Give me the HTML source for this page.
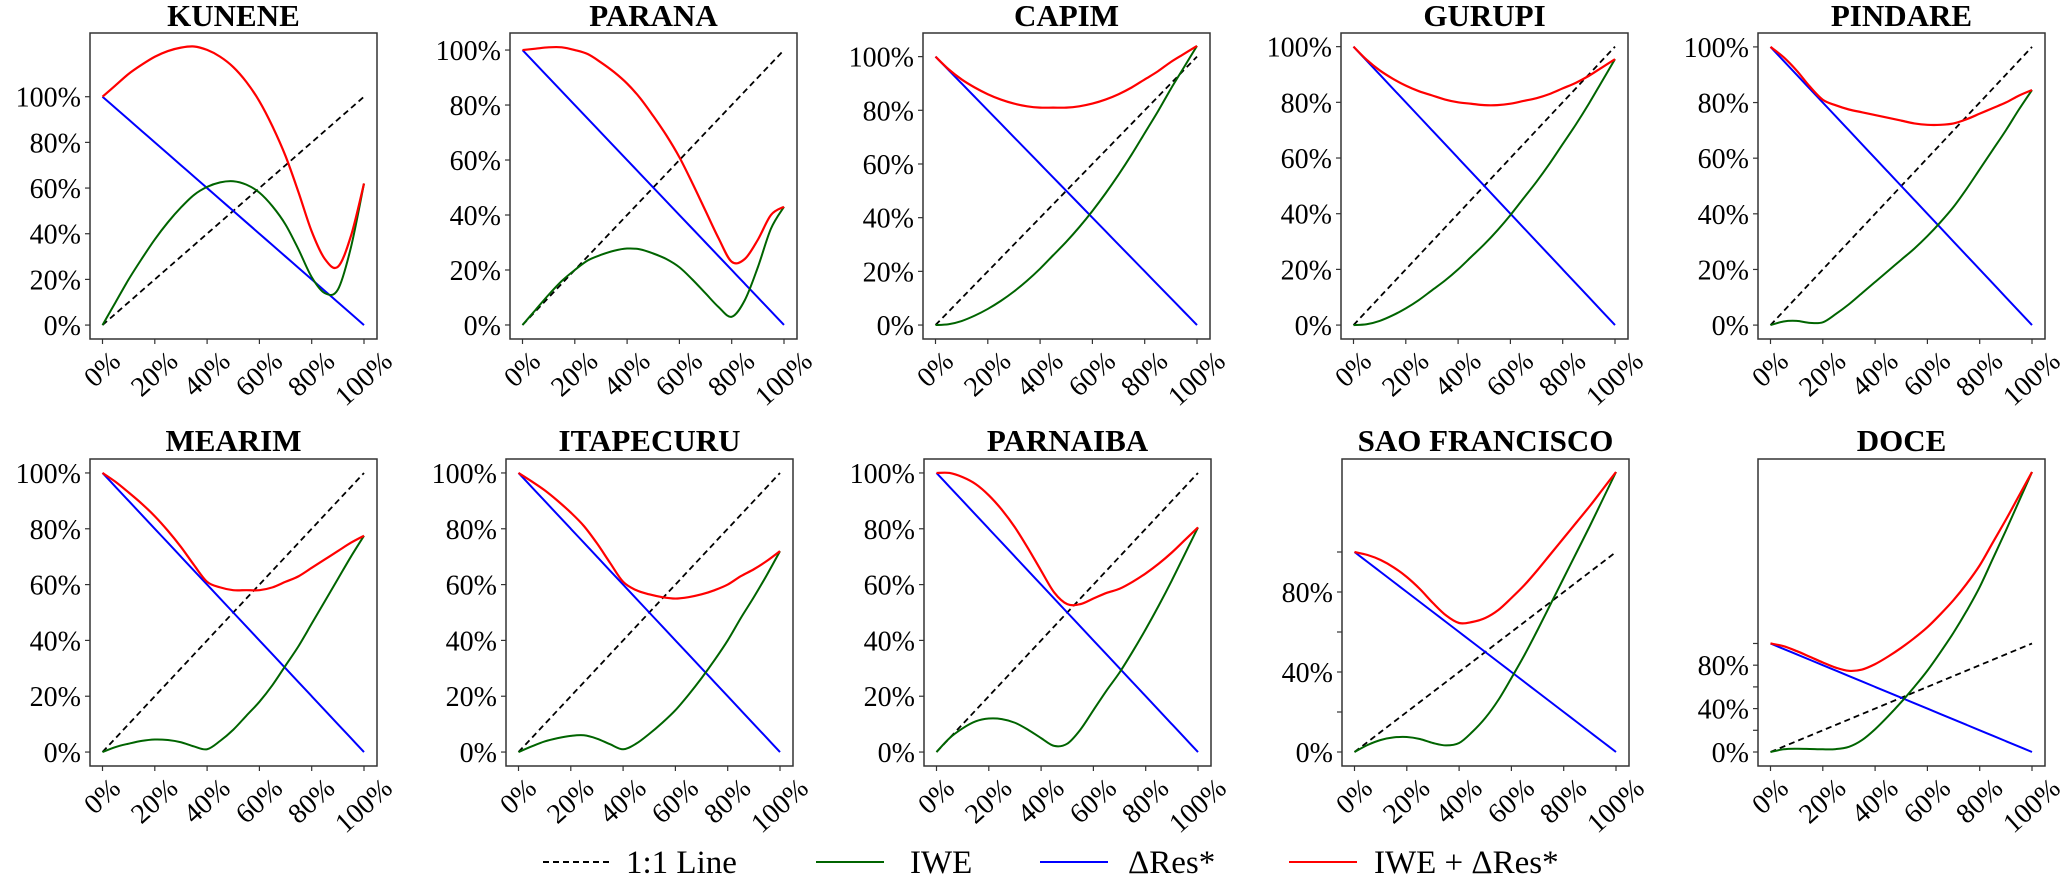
<!DOCTYPE html>
<html><head><meta charset="utf-8"><style>
html,body{margin:0;padding:0;background:#fff;}
svg{display:block;font-family:"Liberation Serif","Times New Roman",serif;}
</style></head><body>
<svg id="fig" width="2067" height="882" viewBox="0 0 2067 882" xmlns="http://www.w3.org/2000/svg"></svg>
<script>
// common x grid (% of range)
const xs = [0,5,10,15,20,25,30,35,40,45,50,55,60,65,70,75,80,85,90,95,100];
const dres = [100,95,90,85,80,75,70,65,60,55,50,45,40,35,30,25,20,15,10,5,0];
const names = ["KUNENE","PARANA","CAPIM","GURUPI","PINDARE","MEARIM","ITAPECURU","PARNAIBA","SAO FRANCISCO","DOCE"];
const iweKunene = [0,10,20,29,37.5,45,51.5,57,60.5,62.5,63,61.5,58,52,44,33,21,14,15.5,34,62];
const iweParana = [0,5.5,11,16,20,23.5,25.5,27,27.8,27.5,26,24,21,16.5,11.5,6.5,3,9,21,35,43];
const iweCapim = [0,0.3,1.5,3.5,6,9,12.5,16.5,21,26,31,36.5,42.5,49,56,63.5,71.5,79.5,88,96,104];
const iweGurupi = [0,0.3,1.5,3.5,6,9,12.5,16,20,24.5,29,34,39.5,45.5,51.5,58,65,72,79.5,87.5,95.5];
const iwePindare = [0,1.3,1.5,0.8,1,4,7.5,11.5,15.5,19.5,23.5,27.5,32,37,42.5,49,56,63,70,77.5,84.5];
const iweMearim = [0,1.8,3,4,4.5,4.3,3.5,2,1,4,8,13,18,24,31,38,46,54,62,70,77.5];
const iweItapecuru = [0,2,3.8,5,5.8,6,4.8,2.8,1,3,6.5,10.5,15,20.5,26.5,33,40,48,55.5,63.5,72];
const iweParnaiba = [0,5,8.5,11,12,11.8,10.5,8,5,2.2,3,8,15,22,28.5,36,44,52.5,61.5,71,80.5];
const iweSao = [0,3.5,6,7.3,7.5,6.5,4.5,3.3,4.5,10,17,26,37,48.5,61,74,87,100,113,126.5,140];
const iweDoce = [0,2.5,3,2.8,2.5,2.7,4.8,11,21,33,46,60,75,92,110,130,152,178,204,231,258];
const iweAll = [iweKunene,iweParana,iweCapim,iweGurupi,iwePindare,iweMearim,iweItapecuru,iweParnaiba,iweSao,iweDoce];
const yMin = [-6.1,-5.1,-5.2,-5,-5,-5,-5,-5,-7,-12.9];
const yMax = [127.9,106.2,108.8,104.9,105,105,105,105,146.5,270];
const yTickVals = [0,20,40,60,80,100];
const yLabelSao = ["0%","","40%","","80%",""];
const yLabelStd = ["0%","20%","40%","60%","80%","100%"];
const xTickVals = [0,20,40,60,80,100];
const xTickLabels = ["0%","20%","40%","60%","80%","100%"];

const NS="http://www.w3.org/2000/svg";
const svg=document.getElementById('fig');
function mk(tag,attrs,parent){const e=document.createElementNS(NS,tag);for(const k in attrs)e.setAttribute(k,attrs[k]);(parent||svg).appendChild(e);return e;}

const lefts=[90,510,923,1341,1758,90,506,924,1342,1758];
const W=287;
function smoothPath(pts){
  let d=`M${pts[0][0].toFixed(2)},${pts[0][1].toFixed(2)}`;
  for(let i=0;i<pts.length-1;i++){
    const p0=pts[Math.max(0,i-1)],p1=pts[i],p2=pts[i+1],p3=pts[Math.min(pts.length-1,i+2)];
    const c1=[p1[0]+(p2[0]-p0[0])/6,p1[1]+(p2[1]-p0[1])/6];
    const c2=[p2[0]-(p3[0]-p1[0])/6,p2[1]-(p3[1]-p1[1])/6];
    d+=` C${c1[0].toFixed(2)},${c1[1].toFixed(2)} ${c2[0].toFixed(2)},${c2[1].toFixed(2)} ${p2[0].toFixed(2)},${p2[1].toFixed(2)}`;
  }
  return d;
}
for(let p=0;p<10;p++){
  const row=p<5?0:1;
  const L=lefts[p], T=row?459:33, H=row?307:306, B=T+H;
  const x0=L+12.5, x1=L+274;
  const g=mk('g',{});
  
  
  const sx=v=>x0+(x1-x0)*v/100;
  const sy=v=>B-(v-yMin[p])/(yMax[p]-yMin[p])*H;
  const title=mk('text',{x:L+W/2,y:row?451:26,'text-anchor':'middle','font-size':31,'font-weight':'bold',fill:'#000'},g);
  title.textContent=names[p];
  
  
  yTickVals.forEach((v,i)=>{
    const y=sy(v);
    mk('line',{x1:L-5,x2:L,y1:y,y2:y,stroke:'#333','stroke-width':1.2},g);
    const lab=(p>=8)?yLabelSao[i]:yLabelStd[i];
    if(lab){
      const t=mk('text',{x:L-9,y:y+10,'text-anchor':'end','font-size':28,fill:'#000'},g);
      t.textContent=lab;
      
      
    }
  });
  xTickVals.forEach((v,i)=>{
    const x=sx(v);
    mk('line',{x1:x,x2:x,y1:B,y2:B+5,stroke:'#333','stroke-width':1.2},g);
    const t=mk('text',{x:0,y:0,'text-anchor':'middle','dominant-baseline':'central','font-size':28,fill:'#000'},g);
    t.textContent=xTickLabels[i];
    
    
    const len=t.getComputedTextLength();
    const a=42*Math.PI/180;
    const h=len*Math.sin(a)+22*Math.cos(a);
    t.setAttribute('transform',`translate(${x},${B+10+h/2}) rotate(-42)`);
  });
  const cid='clip'+p;
  const cp=mk('clipPath',{id:cid},g); mk('rect',{x:L,y:T,width:W,height:H},cp);
  const cg=mk('g',{'clip-path':`url(#${cid})`},g);
  const one=mk('line',{x1:sx(0),y1:sy(0),x2:sx(100),y2:sy(100),stroke:'#000','stroke-width':1.8,'stroke-dasharray':'6,4'},cg);
  
  
  const iwe=iweAll[p];
  const gp=xs.map((x,i)=>[sx(x),sy(iwe[i])]);
  const bp=xs.map((x,i)=>[sx(x),sy(dres[i])]);
  const rp=xs.map((x,i)=>[sx(x),sy(iwe[i]+dres[i])]);
  const bl=mk('path',{d:smoothPath(bp),fill:'none',stroke:'#0000ff','stroke-width':2},cg);
  
  
  const gl=mk('path',{d:smoothPath(gp),fill:'none',stroke:'#006400','stroke-width':2},cg);
  
  
  const rl=mk('path',{d:smoothPath(rp),fill:'none',stroke:'#ff0000','stroke-width':2.2},cg);
  
  
  const box=mk('rect',{x:L,y:T,width:W,height:H,fill:'none',stroke:'#333','stroke-width':1.5},g);
  
  
}
const lg=mk('g',{});


const legItems=[["1:1 Line","#000",543,626,true],["IWE","#006400",816,910,false],["ΔRes*","#0000ff",1040,1128,false],["IWE + ΔRes*","#ff0000",1289,1374,false]];
legItems.forEach(it=>{
  const ln=mk('line',{x1:it[2],x2:it[2]+68,y1:862,y2:862,stroke:it[1],'stroke-width':2,'stroke-dasharray':it[4]?'6,4':'none'},lg);
  
  
  const t=mk('text',{x:it[3],y:873,'font-size':33,fill:'#000'},lg);
  t.textContent=it[0];
  
  
});
</script>
</body></html>
